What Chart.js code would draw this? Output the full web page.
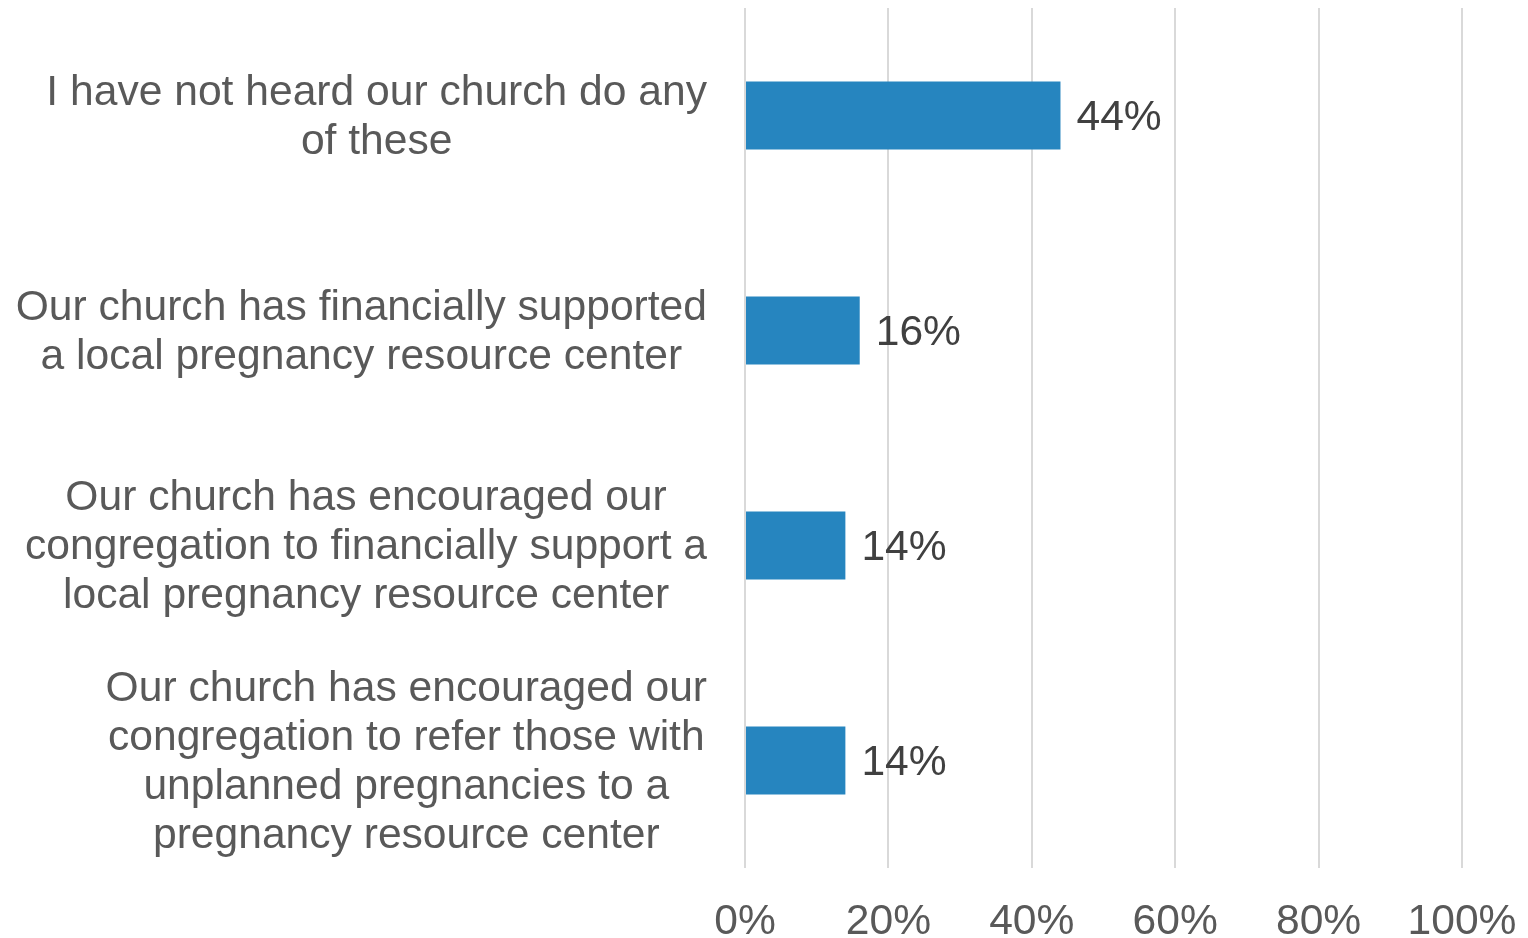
<!DOCTYPE html>
<html>
<head>
<meta charset="utf-8">
<script src="https://cdn.jsdelivr.net/npm/chart.js@4"></script>
<style>
html,body{margin:0;padding:0;background:#fff;overflow:hidden;}
#wrap{position:relative;width:1528px;height:938px;}
</style>
</head>
<body>
<div id="wrap"><canvas id="c"></canvas></div>
<script>
const categories = [
  ["I have not heard our church do any", "of these"],
  ["Our church has financially supported", "a local pregnancy resource center"],
  ["Our church has encouraged our", "congregation to financially support a", "local pregnancy resource center"],
  ["Our church has encouraged our", "congregation to refer those with", "unplanned pregnancies to a", "pregnancy resource center"]
];
const values = [44, 16, 14, 14];
const tickValues = [0, 20, 40, 60, 80, 100];

const FONT = '"Liberation Sans", Arial, sans-serif';

const labelPlugin = {
  id: 'customLabels',
  afterDraw(chart) {
    const ctx = chart.ctx;
    const y = chart.scales.y;
    const area = chart.chartArea;
    ctx.save();
    ctx.font = '42.6px ' + FONT;
    ctx.fillStyle = '#595959';
    ctx.textAlign = 'center';
    ctx.textBaseline = 'middle';
    const lh = 49;
    categories.forEach((lines, i) => {
      const cy = y.getPixelForValue(i) + 2;
      const maxW = Math.max(...lines.map(l => ctx.measureText(l).width));
      const cx = area.left - 38 - maxW / 2;
      const y0 = cy - (lines.length - 1) * lh / 2;
      lines.forEach((l, k) => ctx.fillText(l, cx, y0 + k * lh));
    });
    ctx.font = '42.6px ' + FONT;
    ctx.fillStyle = '#404040';
    ctx.textAlign = 'left';
    const meta = chart.getDatasetMeta(0);
    meta.data.forEach((bar, i) => {
      ctx.fillText(values[i] + '%', bar.x + 16, bar.y + 3);
    });
    ctx.restore();
  }
};

new Chart(document.getElementById('c'), {
  type: 'bar',
  data: {
    labels: categories.map((c, i) => i),
    datasets: [{
      data: values,
      backgroundColor: '#2685BF',
      categoryPercentage: 1,
      barPercentage: 0.316
    }]
  },
  options: {
    indexAxis: 'y',
    responsive: true,
    maintainAspectRatio: false,
    animation: false,
    layout: { padding: { left: 745, right: 66, top: 8, bottom: 0 } },
    plugins: { legend: { display: false }, tooltip: { enabled: false } },
    scales: {
      y: { display: false, type: 'category' },
      x: {
        min: 0, max: 100,
        afterBuildTicks: s => { s.ticks = tickValues.map(v => ({ value: v })); },
        afterFit: s => { s.height = 70; s.paddingLeft = 0; s.paddingRight = 0; },
        grid: { color: '#D9D9D9', lineWidth: 2, drawTicks: false },
        border: { display: false },
        ticks: {
          padding: 29,
          color: '#595959',
          font: { size: 42.6, family: FONT },
          maxRotation: 0,
          callback: v => v + '%'
        }
      }
    }
  },
  plugins: [labelPlugin]
});
</script>
</body>
</html>
